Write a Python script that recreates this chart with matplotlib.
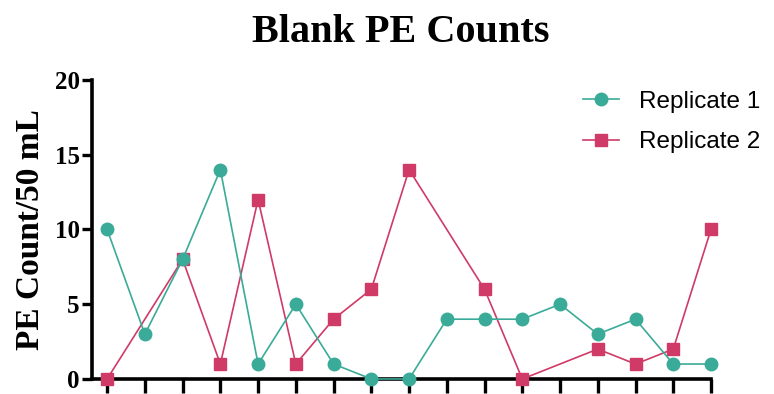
import numpy as np
import matplotlib.pyplot as plt

# blank sample counts per sampling event; None = no count recorded
samples = list(range(17))
replicate_1 = [10, 3, 8, 14, 1, 5, 1, 0, 0, 4, 4, 4, 5, 3, 4, 1, 1]
replicate_2 = [0, None, 8, 1, 12, 1, 4, 6, 14, None, 6, 0, None, 2, 1, 2, 10]
y_ticks = [0, 5, 10, 15, 20]

teal = "#3aab98"
pink = "#cf3a67"

serif = ["Liberation Serif", "DejaVu Serif"]
sans = ["Liberation Sans", "DejaVu Sans"]

fig = plt.figure(figsize=(7.74, 3.94), dpi=100)
ax = fig.add_axes([0.1189, 0.0381, 0.7997, 0.759])


def valid(xs, ys):
    pairs = [(x, y) for x, y in zip(xs, ys) if y is not None]
    return [p[0] for p in pairs], [p[1] for p in pairs]


x1, y1 = valid(samples, replicate_1)
x2, y2 = valid(samples, replicate_2)

ax.plot(x1, y1, color=teal, linewidth=1.2, marker="o", markersize=9,
        label="Replicate 1", clip_on=False, zorder=5)
ax.plot(x2, y2, color=pink, linewidth=1.2, marker="s", markersize=8.5,
        label="Replicate 2", clip_on=False, zorder=4)

ax.set_xlim(-0.4, 16)
ax.set_ylim(0, 20)
ax.set_xticks(samples)
ax.set_xticklabels([])
ax.set_yticks(y_ticks)
ax.set_yticklabels([str(t) for t in y_ticks])
for lbl in ax.get_yticklabels():
    lbl.set_fontfamily(serif)
    lbl.set_fontweight("bold")
    lbl.set_fontsize(18)

for side in ("top", "right"):
    ax.spines[side].set_visible(False)
for side in ("left", "bottom"):
    ax.spines[side].set_linewidth(2.6)
ax.tick_params(axis="x", length=10, width=2.4, direction="out")
ax.tick_params(axis="y", length=7, width=2.4, direction="out", pad=2)

ax.set_ylabel("PE Count/50 mL", fontfamily=serif, fontweight="bold",
              fontsize=24, labelpad=6)
fig.suptitle("Blank PE Counts", x=0.518, y=0.965, fontfamily=serif,
             fontweight="bold", fontsize=29)

fig.legend(loc="upper right", bbox_to_anchor=(1.01, 0.825), frameon=False,
           prop={"family": sans, "size": 17.5}, handlelength=1.5,
           handletextpad=0.8, labelspacing=0.75)

fig.savefig("out.png", dpi=100)
